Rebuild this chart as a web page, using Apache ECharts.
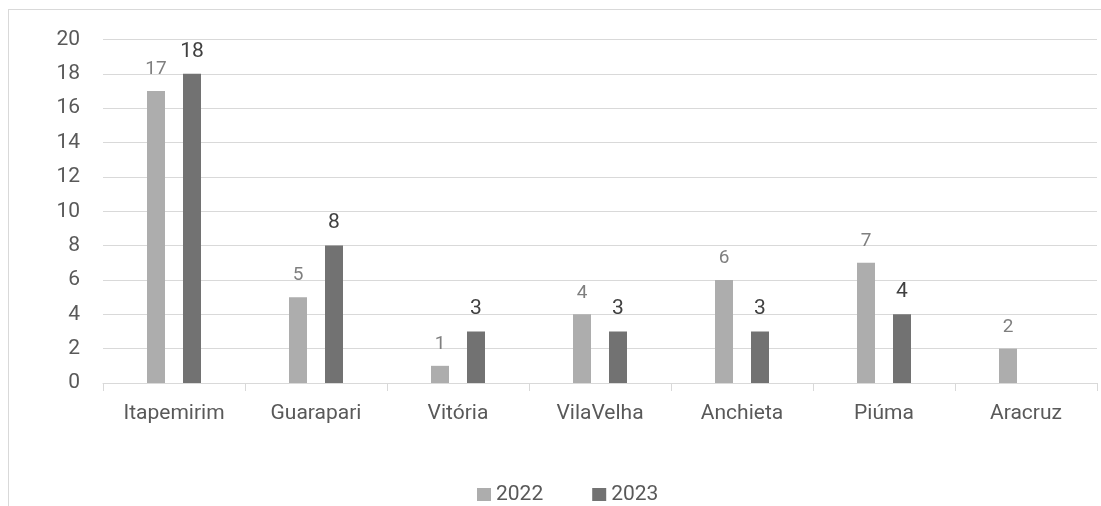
<!DOCTYPE html>
<html>
<head>
<meta charset="utf-8">
<script src="https://cdn.jsdelivr.net/npm/echarts@6/dist/echarts.min.js"></script>
<style>
  html, body { margin: 0; padding: 0; background: #fff; }
  #frame { position: absolute; left: 8px; top: 9px; width: 1200px; height: 600px; border: 1px solid #d9d9d9; box-sizing: border-box; }
  #chart { position: absolute; left: 0; top: 0; width: 1101px; height: 506px; }
</style>
</head>
<body>
<div id="frame"></div>
<div id="chart"></div>
<script>
const categories = ['Itapemirim', 'Guarapari', 'Vitória', 'VilaVelha', 'Anchieta', 'Piúma', 'Aracruz'];
const values2022 = [17, 5, 1, 4, 6, 7, 2];
const values2023 = [18, 8, 3, 3, 3, 4, null];
const yTicks = { min: 0, max: 20, interval: 2 };

const chart = echarts.init(document.getElementById('chart'), null, { renderer: 'canvas' });
const font = 'Roboto, "Noto Sans", sans-serif';

chart.setOption({
  animation: false,
  textStyle: { fontFamily: font },
  grid: { left: 103, right: 4, top: 39.5, bottom: 123 },
  legend: {
    top: 479,
    left: 472,
    itemWidth: 14,
    itemHeight: 13,
    itemGap: 49,
    icon: 'rect',
    textStyle: { fontSize: 21, color: '#595959', fontFamily: font },
    data: ['2022', '2023']
  },
  xAxis: {
    type: 'category',
    data: categories,
    axisLine: { lineStyle: { color: '#d9d9d9', width: 1 } },
    axisTick: { show: true, length: 8, lineStyle: { color: '#d9d9d9' } },
    axisLabel: { fontSize: 21, color: '#595959', margin: 20, fontFamily: font }
  },
  yAxis: {
    type: 'value',
    min: yTicks.min,
    max: yTicks.max,
    interval: yTicks.interval,
    axisLine: { show: false },
    axisTick: { show: false },
    splitLine: { lineStyle: { color: '#d9d9d9', width: 1 } },
    axisLabel: { fontSize: 21, color: '#595959', margin: 23, fontFamily: font }
  },
  series: [
    {
      name: '2022',
      type: 'bar',
      data: values2022,
      barWidth: 18,
      barGap: '100%',
      itemStyle: { color: '#adadad' },
      label: { show: true, position: 'top', distance: 12, fontSize: 19, color: '#7f7f7f', fontFamily: font }
    },
    {
      name: '2023',
      type: 'bar',
      data: values2023,
      barWidth: 18,
      itemStyle: { color: '#727272' },
      label: { show: true, position: 'top', distance: 12, fontSize: 21, color: '#404040', fontFamily: font }
    }
  ]
});
</script>
</body>
</html>
